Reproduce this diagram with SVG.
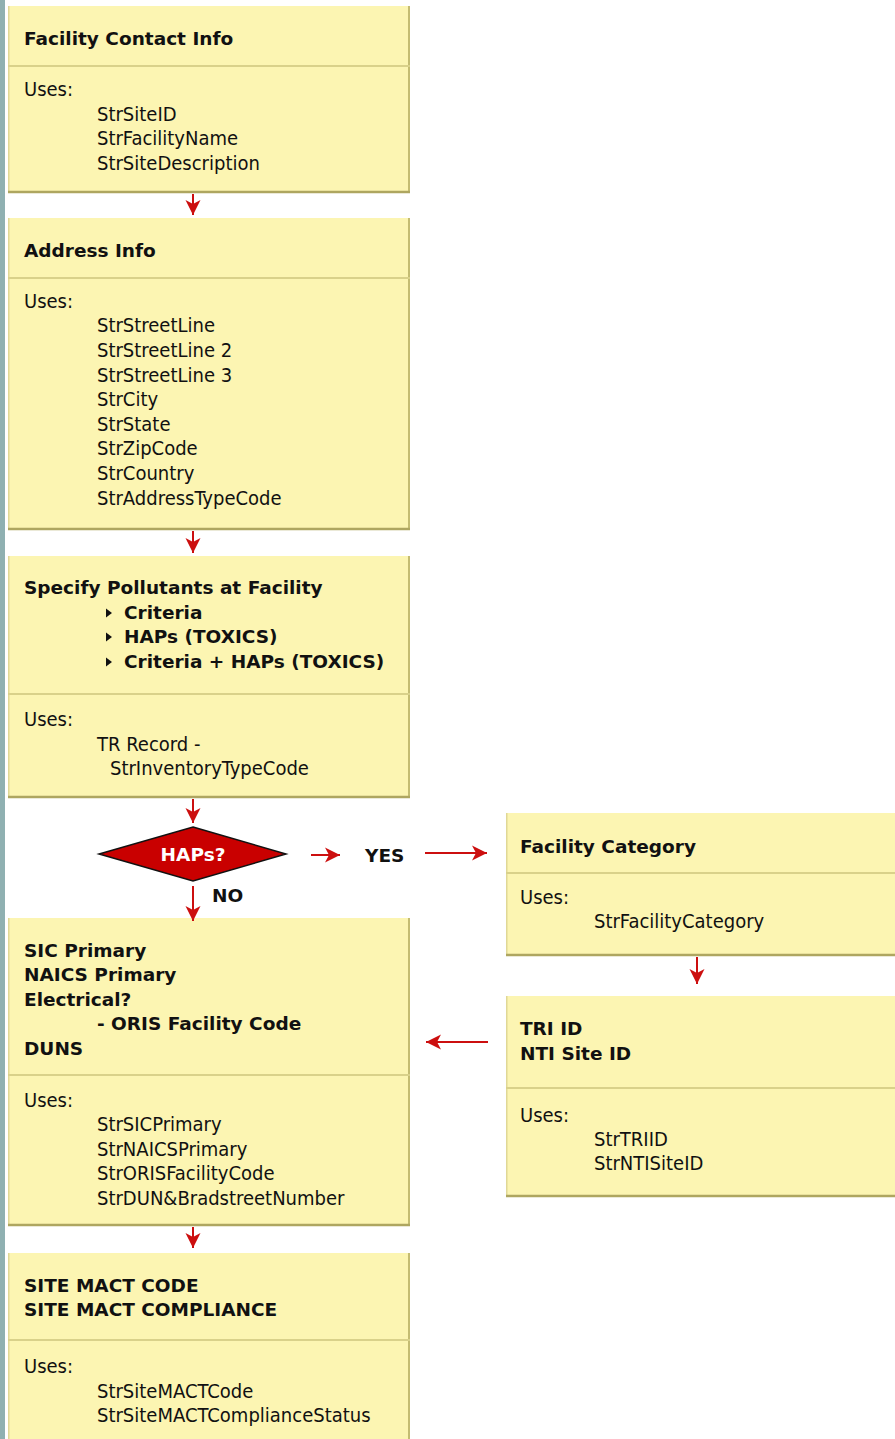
<svg xmlns="http://www.w3.org/2000/svg" width="895" height="1439" viewBox="0 0 895 1439">
  <style>
    .box { fill: #fcf5b2; }
    .edge-l { stroke: #e0d896; stroke-width: 1.5; }
    .edge-r { stroke: #c4bc72; stroke-width: 2; }
    .edge-b { stroke: #aea660; stroke-width: 2.5; }
    .div { stroke: #d9d18a; stroke-width: 2; }
    text { font-family: "DejaVu Sans Condensed", "DejaVu Sans", Verdana, sans-serif; font-stretch: condensed; font-size: 20px; fill: #111; }
    .t { font-family: "DejaVu Sans", Verdana, sans-serif; font-stretch: normal; font-weight: bold; font-size: 18.5px; }
    .wire { stroke: #cc0f0f; stroke-width: 2; fill: none; }
  </style>
  <defs>
    <marker id="head" viewBox="-16 -9 18 18" markerWidth="18" markerHeight="18" refX="0" refY="0" orient="auto" markerUnits="userSpaceOnUse">
      <path d="M0,0 L-15,-7.5 L-11,0 L-15,7.5 Z" fill="#cc0f0f"/>
    </marker>
    <path id="tri" d="M0,-4.5 L6,0 L0,4.5 Z" fill="#111"/>
  </defs>

  <!-- side band -->
  <rect x="0" y="0" width="5" height="1439" fill="#8fb0b1"/>

  <!-- Facility Contact Info -->
  <g id="facility-contact">
    <rect class="box" x="8" y="6" width="402" height="187"/>
    <line class="edge-l" x1="8.75" y1="6" x2="8.75" y2="193"/>
    <line class="edge-r" x1="409" y1="6" x2="409" y2="193"/>
    <line class="edge-b" x1="8" y1="192" x2="410" y2="192"/>
    <line class="div" x1="8" y1="66" x2="410" y2="66"/>
    <text class="t" x="24" y="45">Facility Contact Info</text>
    <text x="24" y="96">Uses:</text>
    <text x="97" y="121">StrSiteID</text>
    <text x="97" y="145">StrFacilityName</text>
    <text x="97" y="170">StrSiteDescription</text>
  </g>

  <!-- Address Info -->
  <g id="address-info">
    <rect class="box" x="8" y="218" width="402" height="312"/>
    <line class="edge-l" x1="8.75" y1="218" x2="8.75" y2="530"/>
    <line class="edge-r" x1="409" y1="218" x2="409" y2="530"/>
    <line class="edge-b" x1="8" y1="529" x2="410" y2="529"/>
    <line class="div" x1="8" y1="278" x2="410" y2="278"/>
    <text class="t" x="24" y="257">Address Info</text>
    <text x="24" y="308">Uses:</text>
    <text x="97" y="332">StrStreetLine</text>
    <text x="97" y="357">StrStreetLine 2</text>
    <text x="97" y="382">StrStreetLine 3</text>
    <text x="97" y="406">StrCity</text>
    <text x="97" y="431">StrState</text>
    <text x="97" y="455">StrZipCode</text>
    <text x="97" y="480">StrCountry</text>
    <text x="97" y="505">StrAddressTypeCode</text>
  </g>

  <!-- Specify Pollutants -->
  <g id="pollutants">
    <rect class="box" x="8" y="556" width="402" height="242"/>
    <line class="edge-l" x1="8.75" y1="556" x2="8.75" y2="798"/>
    <line class="edge-r" x1="409" y1="556" x2="409" y2="798"/>
    <line class="edge-b" x1="8" y1="797" x2="410" y2="797"/>
    <line class="div" x1="8" y1="694" x2="410" y2="694"/>
    <text class="t" x="24" y="594">Specify Pollutants at Facility</text>
    <use href="#tri" x="106" y="613"/>
    <text class="t" x="124" y="619">Criteria</text>
    <use href="#tri" x="106" y="637"/>
    <text class="t" x="124" y="643">HAPs (TOXICS)</text>
    <use href="#tri" x="106" y="662"/>
    <text class="t" x="124" y="668">Criteria + HAPs (TOXICS)</text>
    <text x="24" y="726">Uses:</text>
    <text x="97" y="751">TR Record -</text>
    <text x="110" y="775">StrInventoryTypeCode</text>
  </g>

  <!-- HAPs decision -->
  <g id="haps-decision">
    <polygon points="193,827 286,854 193,881 99,854" fill="#c90000" stroke="#111" stroke-width="1.5"/>
    <text class="t" x="193" y="861" text-anchor="middle" style="fill:#fff">HAPs?</text>
  </g>

  <!-- SIC / NAICS -->
  <g id="sic-naics">
    <rect class="box" x="8" y="918" width="402" height="308"/>
    <line class="edge-l" x1="8.75" y1="918" x2="8.75" y2="1226"/>
    <line class="edge-r" x1="409" y1="918" x2="409" y2="1226"/>
    <line class="edge-b" x1="8" y1="1225" x2="410" y2="1225"/>
    <line class="div" x1="8" y1="1075" x2="410" y2="1075"/>
    <text class="t" x="24" y="957">SIC Primary</text>
    <text class="t" x="24" y="981">NAICS Primary</text>
    <text class="t" x="24" y="1006">Electrical?</text>
    <text class="t" x="97" y="1030">- ORIS Facility Code</text>
    <text class="t" x="24" y="1055">DUNS</text>
    <text x="24" y="1107">Uses:</text>
    <text x="97" y="1131">StrSICPrimary</text>
    <text x="97" y="1156">StrNAICSPrimary</text>
    <text x="97" y="1180">StrORISFacilityCode</text>
    <text x="97" y="1205">StrDUN&amp;BradstreetNumber</text>
  </g>

  <!-- Site MACT -->
  <g id="site-mact">
    <rect class="box" x="8" y="1253" width="402" height="190"/>
    <line class="edge-l" x1="8.75" y1="1253" x2="8.75" y2="1439"/>
    <line class="edge-r" x1="409" y1="1253" x2="409" y2="1439"/>
    <line class="div" x1="8" y1="1340" x2="410" y2="1340"/>
    <text class="t" x="24" y="1292">SITE MACT CODE</text>
    <text class="t" x="24" y="1316">SITE MACT COMPLIANCE</text>
    <text x="24" y="1373">Uses:</text>
    <text x="97" y="1398">StrSiteMACTCode</text>
    <text x="97" y="1422">StrSiteMACTComplianceStatus</text>
  </g>

  <!-- Facility Category -->
  <g id="facility-category">
    <rect class="box" x="506" y="813" width="389" height="143"/>
    <line class="edge-l" x1="506.75" y1="813" x2="506.75" y2="956"/>
    <line class="edge-b" x1="506" y1="955" x2="895" y2="955"/>
    <line class="div" x1="506" y1="873" x2="895" y2="873"/>
    <text class="t" x="520" y="853">Facility Category</text>
    <text x="520" y="904">Uses:</text>
    <text x="594" y="928">StrFacilityCategory</text>
  </g>

  <!-- TRI / NTI -->
  <g id="tri-nti">
    <rect class="box" x="506" y="996" width="389" height="201"/>
    <line class="edge-l" x1="506.75" y1="996" x2="506.75" y2="1197"/>
    <line class="edge-b" x1="506" y1="1196" x2="895" y2="1196"/>
    <line class="div" x1="506" y1="1088" x2="895" y2="1088"/>
    <text class="t" x="520" y="1035">TRI ID</text>
    <text class="t" x="520" y="1060">NTI Site ID</text>
    <text x="520" y="1122">Uses:</text>
    <text x="594" y="1146">StrTRIID</text>
    <text x="594" y="1170">StrNTISiteID</text>
  </g>

  <!-- connectors -->
  <g id="connectors">
    <line class="wire" x1="193" y1="194" x2="193" y2="215" marker-end="url(#head)"/>
    <line class="wire" x1="193" y1="531" x2="193" y2="553" marker-end="url(#head)"/>
    <line class="wire" x1="193" y1="799" x2="193" y2="823" marker-end="url(#head)"/>
    <line class="wire" x1="193" y1="886" x2="193" y2="921" marker-end="url(#head)"/>
    <line class="wire" x1="311" y1="855" x2="340" y2="855" marker-end="url(#head)"/>
    <line class="wire" x1="425" y1="853" x2="487" y2="853" marker-end="url(#head)"/>
    <line class="wire" x1="697" y1="957" x2="697" y2="984" marker-end="url(#head)"/>
    <line class="wire" x1="488" y1="1042" x2="426" y2="1042" marker-end="url(#head)"/>
    <line class="wire" x1="193" y1="1227" x2="193" y2="1248" marker-end="url(#head)"/>
    <text class="t" x="365" y="862">YES</text>
    <text class="t" x="212" y="902">NO</text>
  </g>
</svg>
